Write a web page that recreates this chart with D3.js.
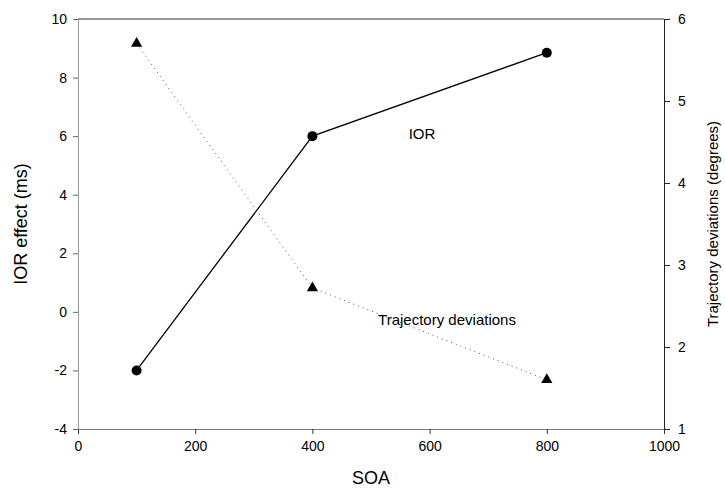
<!DOCTYPE html>
<html>
<head>
<meta charset="utf-8">
<script src="https://cdn.jsdelivr.net/npm/d3@7"></script>
<style>
  body { margin: 0; background: #fff; }
  text { font-family: "Liberation Sans", Arial, sans-serif; fill: #000; }
</style>
</head>
<body>
<div id="chart"></div>
<script>
  // values
  var soa = [100, 400, 800];
  var iorEffect = [-2.0, 6.0, 8.85];
  var trajDev = [5.7, 2.72, 1.6];
  var xTicks = [0, 200, 400, 600, 800, 1000];
  var yLeftTicks = [-4, -2, 0, 2, 4, 6, 8, 10];
  var yRightTicks = [1, 2, 3, 4, 5, 6];

  var W = 725, H = 494;
  var m = {left: 78, right: 61, top: 19, bottom: 65};

  var svg = d3.select('#chart').append('svg')
    .attr('width', W)
    .attr('height', H);

  var x = d3.scaleLinear().domain([0, 1000]).range([m.left, W - m.right]);
  var yL = d3.scaleLinear().domain([-4, 10]).range([H - m.bottom, m.top]);
  var yR = d3.scaleLinear().domain([1, 6]).range([H - m.bottom, m.top]);

  function translate(a, b) { return 'translate(' + a + ',' + b + ')'; }
  var plain = function(d) { return String(d); };

  // top frame line
  svg.append('line')
    .attr('x1', x(0)).attr('x2', x(1000))
    .attr('y1', m.top).attr('y2', m.top)
    .attr('stroke', '#333').attr('stroke-width', 1);

  // bottom axis
  var gx = svg.append('g')
    .attr('transform', translate(0, H - m.bottom))
    .call(d3.axisBottom(x).tickValues(xTicks).tickFormat(plain).tickSize(5).tickPadding(7).tickSizeOuter(0));
  gx.select('.domain').attr('stroke', '#777');
  gx.selectAll('.tick line').attr('stroke', '#333');
  gx.selectAll('text').style('font-size', '14px');

  // left axis
  var gl = svg.append('g')
    .attr('transform', translate(m.left, 0))
    .call(d3.axisLeft(yL).tickValues(yLeftTicks).tickFormat(plain).tickSize(5).tickPadding(6).tickSizeOuter(0));
  gl.select('.domain').attr('stroke', '#999');
  gl.selectAll('.tick line').attr('stroke', '#666');
  gl.selectAll('text').style('font-size', '14px');

  // right axis
  var gr = svg.append('g')
    .attr('transform', translate(W - m.right, 0))
    .call(d3.axisRight(yR).tickValues(yRightTicks).tickFormat(plain).tickSize(6).tickPadding(8).tickSizeOuter(0));
  gr.select('.domain').attr('stroke', '#222');
  gr.selectAll('.tick line').attr('stroke', '#222');
  gr.selectAll('text').style('font-size', '14px');

  // axis titles
  svg.append('text')
    .attr('x', (x(0) + x(1000)) / 2).attr('y', 484)
    .attr('text-anchor', 'middle')
    .style('font-size', '18px')
    .text('SOA');

  svg.append('text')
    .attr('transform', translate(27, (yL(-4) + yL(10)) / 2) + ' rotate(-90)')
    .attr('text-anchor', 'middle')
    .style('font-size', '18px')
    .text('IOR effect (ms)');

  svg.append('text')
    .attr('transform', translate(718, (yR(1) + yR(6)) / 2) + ' rotate(-90)')
    .attr('text-anchor', 'middle')
    .style('font-size', '15px')
    .text('Trajectory deviations (degrees)');

  var iorData = soa.map(function(d, i) { return {x: d, y: iorEffect[i]}; });
  var trajData = soa.map(function(d, i) { return {x: d, y: trajDev[i]}; });

  // trajectory deviations, dotted
  svg.append('path')
    .datum(trajData)
    .attr('fill', 'none')
    .attr('stroke', '#555')
    .attr('stroke-width', 1)
    .attr('stroke-dasharray', '1,4')
    .attr('d', d3.line().x(function(d) { return x(d.x); }).y(function(d) { return yR(d.y); }));

  // IOR, solid
  svg.append('path')
    .datum(iorData)
    .attr('fill', 'none')
    .attr('stroke', '#000')
    .attr('stroke-width', 1.3)
    .attr('d', d3.line().x(function(d) { return x(d.x); }).y(function(d) { return yL(d.y); }));

  svg.selectAll('.ior-pt').data(iorData).enter()
    .append('circle')
      .attr('class', 'ior-pt')
      .attr('cx', function(d) { return x(d.x); })
      .attr('cy', function(d) { return yL(d.y); })
      .attr('r', 5)
      .attr('fill', '#000');

  var tri = d3.symbol().type(d3.symbolTriangle).size(55);
  svg.selectAll('.traj-pt').data(trajData).enter()
    .append('path')
      .attr('class', 'traj-pt')
      .attr('d', tri)
      .attr('transform', function(d) { return translate(x(d.x), yR(d.y)); })
      .attr('fill', '#000');

  // inline series labels
  svg.append('text')
    .attr('x', 422).attr('y', 139)
    .attr('text-anchor', 'middle')
    .style('font-size', '15px')
    .text('IOR');

  svg.append('text')
    .attr('x', 447).attr('y', 325)
    .attr('text-anchor', 'middle')
    .style('font-size', '15px')
    .text('Trajectory deviations');
</script>
</body>
</html>
